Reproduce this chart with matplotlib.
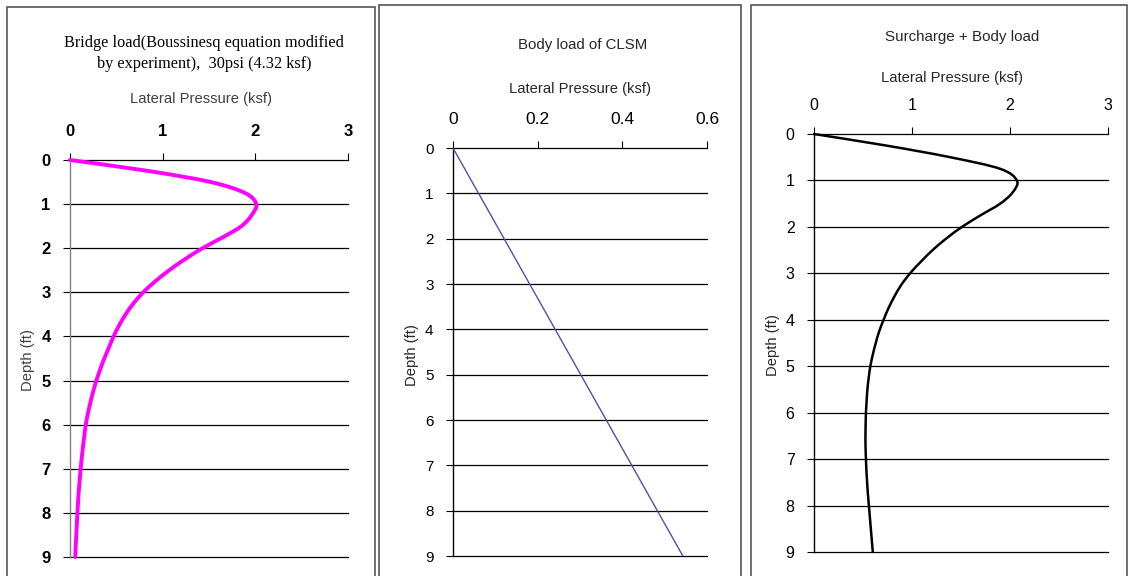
import matplotlib
matplotlib.use('Agg')
import matplotlib.pyplot as plt
import numpy as np
from matplotlib.patches import Rectangle, PathPatch
from matplotlib.path import Path

W, H = 1129, 576

# depths used for the two curves (ft), every 0.25 ft
depth_curve = [0, 0.25, 0.5, 0.75, 1.0, 1.25, 1.5, 1.75, 2.0, 2.25, 2.5, 2.75, 3.0, 3.25,
               3.5, 3.75, 4.0, 4.25, 4.5, 4.75, 5.0, 5.25, 5.5, 5.75, 6.0, 6.25, 6.5, 6.75,
               7.0, 7.25, 7.5, 7.75, 8.0, 8.25, 8.5, 8.75, 9.0]

# panel 1: bridge load
press_bridge = [0, 0.85, 1.52, 1.89, 2.01, 1.96, 1.85, 1.65, 1.43, 1.24, 1.07, 0.92, 0.79, 0.685,
                0.60, 0.53, 0.47, 0.42, 0.37, 0.325, 0.285, 0.25, 0.22, 0.193, 0.17, 0.155, 0.14,
                0.127, 0.115, 0.105, 0.095, 0.087, 0.08, 0.074, 0.068, 0.062, 0.057]

# panel 2: body load of CLSM
depth_body = [0, 9]
press_body = [0, 0.543]

# panel 3: surcharge + body load
press_total = [0, 0.74, 1.39, 1.90, 2.07, 2.03, 1.90, 1.70, 1.51, 1.35, 1.21, 1.09, 0.98, 0.89,
               0.82, 0.76, 0.71, 0.665, 0.63, 0.60, 0.575, 0.558, 0.545, 0.537, 0.53, 0.527, 0.525,
               0.526, 0.53, 0.535, 0.542, 0.55, 0.56, 0.57, 0.58, 0.59, 0.60]

depth_ticks = list(range(10))

plt.rcParams['font.family'] = ['Liberation Sans', 'DejaVu Sans']

fig = plt.figure(figsize=(W / 100, H / 100), dpi=100)


def fx(px):
    return px / W


def fy(py):
    return 1 - py / H


def smooth_line(ax, xs, ys, **kw):
    """Excel-style smoothed line: Bezier segments through the data points"""
    p = np.column_stack([xs, ys]).astype(float)
    pts = np.vstack([p[0], p, p[-1]])
    verts = [p[0]]
    codes = [Path.MOVETO]
    for i in range(1, len(pts) - 2):
        p0, p1, p2, p3 = pts[i - 1], pts[i], pts[i + 1], pts[i + 2]
        verts += [p1 + (p2 - p0) / 6, p2 - (p3 - p1) / 6, p2]
        codes += [Path.CURVE4] * 3
    ax.add_patch(PathPatch(Path(verts, codes), fill=False, capstyle='round', **kw))


# panel frames
for x0, x1, y0 in [(7, 375, 7), (379, 741, 5), (751, 1127, 5)]:
    fig.patches.append(Rectangle((fx(x0), fy(H + 5)), fx(x1 - x0), (H + 5 - y0) / H,
                                 transform=fig.transFigure, fill=False,
                                 edgecolor='#555555', linewidth=1.2))


def make_panel(box, xmax, xticks, xticklabels, spine_color, tick_weight, xfs, yfs):
    left, right, top, bottom = box
    ax = fig.add_axes([fx(left), fy(bottom), fx(right - left), (bottom - top) / H])
    ax.set_xlim(0, xmax)
    ax.set_ylim(9, 0)
    ax.xaxis.tick_top()
    ax.set_xticks(xticks)
    ax.set_xticklabels(xticklabels)
    ax.set_yticks(depth_ticks)
    for s in ['right', 'bottom']:
        ax.spines[s].set_visible(False)
    ax.spines['top'].set_color('black')
    ax.spines['top'].set_linewidth(0.9)
    ax.spines['left'].set_color(spine_color)
    ax.spines['left'].set_linewidth(1.0)
    ax.tick_params(axis='x', length=5, width=0.8, pad=10, labelsize=xfs, direction='out')
    ax.tick_params(axis='y', length=5, width=0.8, pad=9, labelsize=yfs, direction='out')
    for lab in ax.get_xticklabels() + ax.get_yticklabels():
        lab.set_fontweight(tick_weight)
    for d in depth_ticks[1:]:
        ax.axhline(d, color='black', linewidth=0.9, zorder=1, clip_on=False)
    return ax


ax1 = make_panel((70, 348, 160, 557), 3, [0, 1, 2, 3], ['0', '1', '2', '3'], '#808080', 'bold', 12, 12)
smooth_line(ax1, press_bridge, depth_curve, edgecolor='#FF00FF', linewidth=2.8, zorder=3, clip_on=False)

ax2 = make_panel((453, 707, 148, 556), 0.6, [0, 0.2, 0.4, 0.6], ['0', '0.2', '0.4', '0.6'], 'black', 'normal', 12.5, 11)
ax2.plot(press_body, depth_body, color='#5050A8', linewidth=1.0, zorder=3)

ax3 = make_panel((814, 1108, 134, 552), 3, [0, 1, 2, 3], ['0', '1', '2', '3'], 'black', 'normal', 11.5, 11.5)
smooth_line(ax3, press_total, depth_curve, edgecolor='black', linewidth=1.8, zorder=3, clip_on=False)

# titles and axis labels
fig.text(fx(204), fy(47), 'Bridge load(Boussinesq equation modified',
         ha='center', va='baseline', family='Liberation Serif', fontsize=11.7)
fig.text(fx(204), fy(68), 'by experiment),  30psi (4.32 ksf)',
         ha='center', va='baseline', family='Liberation Serif', fontsize=11.7)
fig.text(fx(583), fy(45), 'Body load of CLSM', ha='center', va='center', fontsize=10.8, color='#262626')
fig.text(fx(962), fy(37), 'Surcharge + Body load', ha='center', va='center', fontsize=10.9, color='#262626')

for x, y, c in [(201, 99, '#404040'), (580, 89, '#262626'), (952, 78, '#262626')]:
    fig.text(fx(x), fy(y), 'Lateral Pressure (ksf)', ha='center', va='center', fontsize=10.6, color=c)

for x, y, c in [(28, 360, '#404040'), (412, 355, '#262626'), (773, 345, '#262626')]:
    fig.text(fx(x), fy(y), 'Depth (ft)', ha='center', va='center', rotation=90, fontsize=10.6, color=c)

fig.savefig('out.png', dpi=100)
